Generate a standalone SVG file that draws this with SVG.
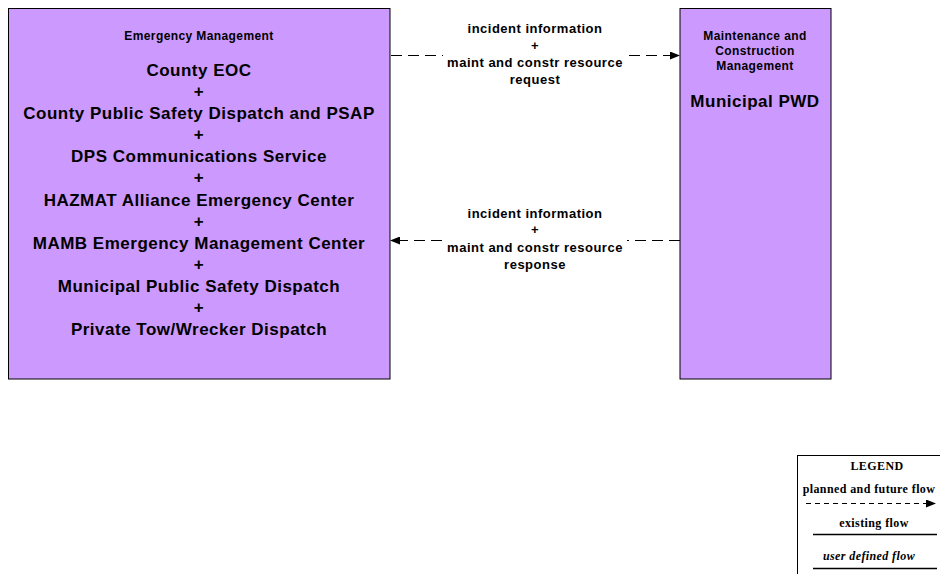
<svg xmlns="http://www.w3.org/2000/svg" width="940" height="574" viewBox="0 0 940 574">
<style>
.box{fill:#CC99FF;stroke:#000;stroke-width:1}
.t{font-family:"Liberation Sans",Arial,sans-serif;font-weight:bold;text-anchor:middle;fill:#000}
.s{font-size:12px;letter-spacing:0.4px}
.b{font-size:17px;letter-spacing:0.5px}
.f{font-size:13px;letter-spacing:0.5px}
.flow{stroke:#000;stroke-width:1;stroke-dasharray:11,6;fill:none}
.lg{font-family:"Liberation Serif","Times New Roman",serif;font-weight:bold;font-size:12px;letter-spacing:0.4px;text-anchor:middle;fill:#000}
</style>
<defs>
<marker id="ah" markerWidth="10" markerHeight="8" refX="9" refY="4" orient="auto" markerUnits="userSpaceOnUse">
<path d="M0,0 L10,4 L0,8 z" fill="#000"/>
</marker>
</defs>
<rect width="940" height="574" fill="#fff"/>
<g id="connectors">
<line class="flow" x1="391" y1="55.5" x2="679" y2="55.5" marker-end="url(#ah)"/>
<line class="flow" x1="680" y1="240.5" x2="391" y2="240.5" marker-end="url(#ah)"/>
<g id="label1">
<rect x="443" y="18" width="184" height="72" fill="#fff"/>
<text class="t f" x="535" y="33">incident information</text>
<text class="t f" x="535" y="50">+</text>
<text class="t f" x="535" y="67">maint and constr resource</text>
<text class="t f" x="535" y="84">request</text>
</g>
<g id="label2">
<rect x="443" y="203" width="184" height="72" fill="#fff"/>
<text class="t f" x="535" y="218">incident information</text>
<text class="t f" x="535" y="234">+</text>
<text class="t f" x="535" y="252">maint and constr resource</text>
<text class="t f" x="535" y="269">response</text>
</g>
</g>
<g id="emergency-management">
<rect class="box" x="8.5" y="8.5" width="381.5" height="370.5"/>
<text class="t s" x="199" y="40">Emergency Management</text>
<text class="t b" x="199" y="76">County EOC</text>
<text class="t b" x="199" y="97">+</text>
<text class="t b" x="199" y="119">County Public Safety Dispatch and PSAP</text>
<text class="t b" x="199" y="140">+</text>
<text class="t b" x="199" y="162">DPS Communications Service</text>
<text class="t b" x="199" y="183">+</text>
<text class="t b" x="199" y="206">HAZMAT Alliance Emergency Center</text>
<text class="t b" x="199" y="227">+</text>
<text class="t b" x="199" y="249">MAMB Emergency Management Center</text>
<text class="t b" x="199" y="270">+</text>
<text class="t b" x="199" y="292">Municipal Public Safety Dispatch</text>
<text class="t b" x="199" y="313">+</text>
<text class="t b" x="199" y="335">Private Tow/Wrecker Dispatch</text>
</g>
<g id="maintenance-construction">
<rect class="box" x="680" y="8.5" width="151" height="370.5"/>
<text class="t s" x="755" y="40">Maintenance and</text>
<text class="t s" x="755" y="55">Construction</text>
<text class="t s" x="755" y="70">Management</text>
<text class="t b" x="755" y="107">Municipal PWD</text>
</g>
<g id="legend">
<rect x="797.5" y="455.5" width="145" height="125" fill="#fff" stroke="#000" stroke-width="1"/>
<text class="lg" x="877" y="470">LEGEND</text>
<text class="lg" x="869" y="493">planned and future flow</text>
<line x1="806" y1="503.5" x2="935" y2="503.5" stroke="#000" stroke-width="1" stroke-dasharray="5,4" marker-end="url(#ah)"/>
<text class="lg" x="874" y="527">existing flow</text>
<line x1="813" y1="534.5" x2="937" y2="534.5" stroke="#000" stroke-width="1.5"/>
<text class="lg" x="869" y="560" font-style="italic">user defined flow</text>
<line x1="813" y1="568.5" x2="937" y2="568.5" stroke="#000" stroke-width="1.5"/>
</g>
</svg>
